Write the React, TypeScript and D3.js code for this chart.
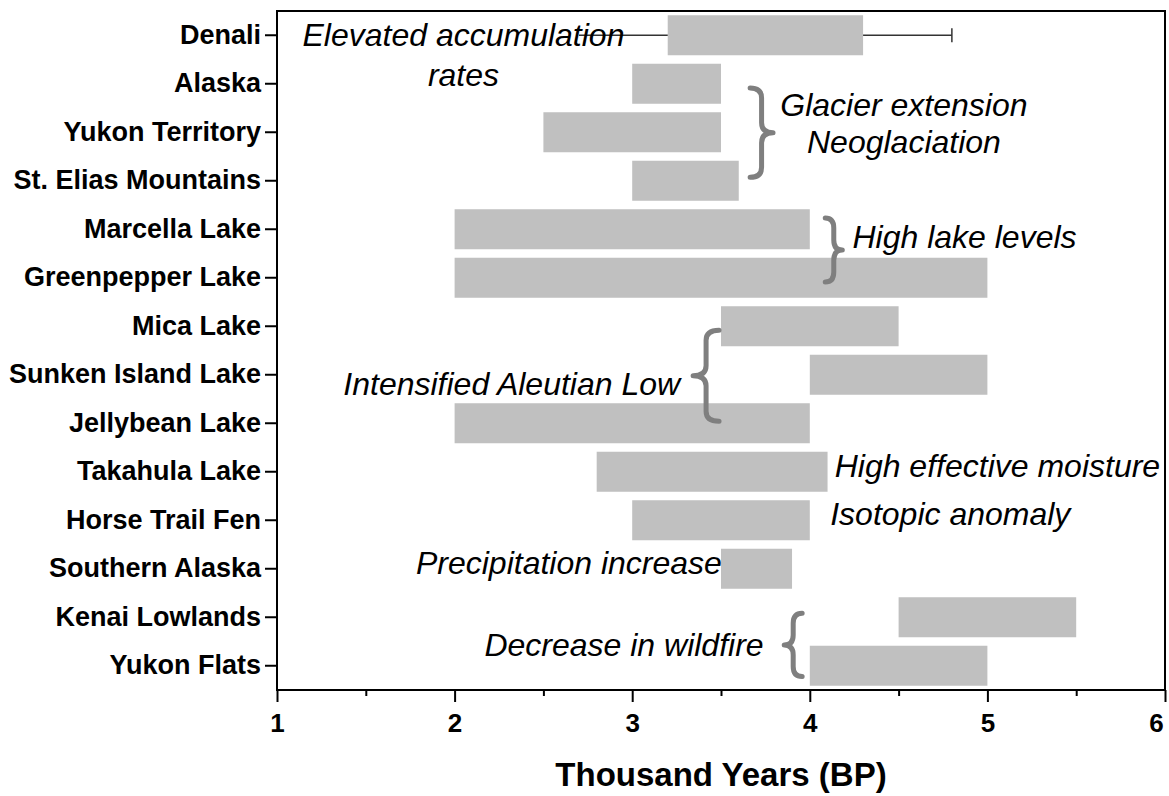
import { axisBottom, axisLeft, scaleBand, scaleLinear, select } from "d3";
import { useEffect, useRef } from "react";

// sites, top to bottom
const sites = [
    "Denali",
    "Alaska",
    "Yukon Territory",
    "St. Elias Mountains",
    "Marcella Lake",
    "Greenpepper Lake",
    "Mica Lake",
    "Sunken Island Lake",
    "Jellybean Lake",
    "Takahula Lake",
    "Horse Trail Fen",
    "Southern Alaska",
    "Kenai Lowlands",
    "Yukon Flats",
];
// interval (thousand years BP)
const startKa = [3.2, 3.0, 2.5, 3.0, 2.0, 2.0, 3.5, 4.0, 2.0, 2.8, 3.0, 3.5, 4.5, 4.0];
const endKa = [4.3, 3.5, 3.5, 3.6, 4.0, 5.0, 4.5, 5.0, 4.0, 4.1, 4.0, 3.9, 5.5, 5.0];
// Denali range whisker
const denaliRange = [2.7, 4.8];

const majorTicks = [1, 2, 3, 4, 5, 6];
const minorTicks = [1.5, 2.5, 3.5, 4.5, 5.5];

// annotations: x in ka, row as fractional site index
const noteText = [
    "Elevated accumulation",
    "rates",
    "Glacier extension",
    "Neoglaciation",
    "High lake levels",
    "Intensified Aleutian Low",
    "High effective moisture",
    "Isotopic anomaly",
    "Precipitation increase",
    "Decrease in wildfire",
];
const noteX = [2.05, 2.05, 4.53, 4.53, 4.24, 3.27, 4.14, 4.115, 3.505, 3.74];
const noteRow = [0, 0.82, 1.44, 2.2, 4.15, 7.18, 8.87, 9.86, 10.87, 12.56];
const noteAnchor = ["middle", "middle", "middle", "middle", "start", "end", "start", "start", "end", "end"];

// curly braces: arm x, tip x, row span
const braceArm = [3.664, 4.087, 3.489, 3.957];
const braceTip = [3.793, 4.183, 3.343, 3.856];
const braceFrom = [1.09, 3.77, 6.08, 11.92];
const braceTo = [2.93, 5.09, 7.96, 13.22];

const W = 1169;
const H = 796;
const left = 277;
const right = 1165;
const top = 11;
const bottom = 690;
const FONT = "'Liberation Sans', Arial, sans-serif";

function bracePath(x0: number, xt: number, y0: number, y1: number) {
    const xm = (x0 + xt) / 2;
    const ym = (y0 + y1) / 2;
    const h = Math.min(10, (y1 - y0) / 5);
    return (
        `M${x0},${y0} Q${xm},${y0} ${xm},${y0 + h} L${xm},${ym - h} ` +
        `Q${xm},${ym} ${xt},${ym} Q${xm},${ym} ${xm},${ym + h} ` +
        `L${xm},${y1 - h} Q${xm},${y1} ${x0},${y1}`
    );
}

function App() {
    const xAxisRef = useRef(null);
    const xMinorRef = useRef(null);
    const yAxisRef = useRef(null);

    const x = scaleLinear().domain([1, 6]).range([left, right]);
    const y = scaleBand().domain(sites).range([top, bottom]).paddingInner(0.175).paddingOuter(0.0875);
    const rowY = (r: number) => (y(sites[0]) as number) + y.bandwidth() / 2 + r * y.step();

    useEffect(() => {
        const gx: any = select(xAxisRef.current);
        gx.call(axisBottom(x).tickValues(majorTicks).tickSize(12).tickPadding(12).tickFormat((d: any) => String(d)));
        gx.select(".domain").remove();
        gx.attr("font-family", FONT).attr("font-size", 26).attr("font-weight", "bold");
        gx.selectAll("line").attr("stroke", "#000").attr("stroke-width", 2);
        gx.selectAll("text").attr("fill", "#000");
        // last label sits inside the page edge
        gx.selectAll("text").filter((d: any) => d === 6).attr("dx", -9);

        const gm: any = select(xMinorRef.current);
        gm.call(axisBottom(x).tickValues(minorTicks).tickSize(6).tickFormat(() => ""));
        gm.select(".domain").remove();
        gm.selectAll("line").attr("stroke", "#000").attr("stroke-width", 2);

        const gy: any = select(yAxisRef.current);
        gy.call(axisLeft(y).tickSize(12).tickPadding(4));
        gy.select(".domain").remove();
        gy.attr("font-family", FONT).attr("font-size", 27).attr("font-weight", "bold");
        gy.selectAll("line").attr("stroke", "#000").attr("stroke-width", 2);
        gy.selectAll("text").attr("fill", "#000");
    }, []);

    const dY = rowY(0);

    return (
        <svg
            width={W}
            height={H}
            style={{ position: "absolute", left: 0, top: 0, background: "#fff" }}
        >
            {/* bars */}
            {sites.map((s, i) => (
                <rect
                    key={s}
                    x={x(startKa[i])}
                    y={y(s)}
                    width={x(endKa[i]) - x(startKa[i])}
                    height={y.bandwidth()}
                    fill="#c0c0c0"
                />
            ))}
            {/* Denali whisker */}
            <line x1={x(denaliRange[0])} x2={x(startKa[0])} y1={dY} y2={dY} stroke="#333" strokeWidth={1.5} />
            <line x1={x(endKa[0])} x2={x(denaliRange[1])} y1={dY} y2={dY} stroke="#333" strokeWidth={1.5} />
            <line x1={x(denaliRange[1])} x2={x(denaliRange[1])} y1={dY - 7} y2={dY + 7} stroke="#333" strokeWidth={1.5} />

            {/* braces */}
            {braceArm.map((a, i) => (
                <path
                    key={i}
                    d={bracePath(x(a), x(braceTip[i]), rowY(braceFrom[i]), rowY(braceTo[i]))}
                    fill="none"
                    stroke="#7f7f7f"
                    strokeWidth={5}
                    strokeLinecap="round"
                    strokeLinejoin="round"
                />
            ))}

            {/* annotations */}
            {noteText.map((t, i) => (
                <text
                    key={t}
                    x={x(noteX[i])}
                    y={rowY(noteRow[i])}
                    dy="0.35em"
                    textAnchor={noteAnchor[i] as any}
                    fontFamily={FONT}
                    fontStyle="italic"
                    fontSize={32}
                    fill="#000"
                >
                    {t}
                </text>
            ))}

            {/* frame */}
            <rect x={left} y={top} width={right - left} height={bottom - top} fill="none" stroke="#000" strokeWidth={2} />

            <g ref={xAxisRef} transform={`translate(0,${bottom})`} />
            <g ref={xMinorRef} transform={`translate(0,${bottom})`} />
            <g ref={yAxisRef} transform={`translate(${left},0)`} />

            <text
                x={(left + right) / 2}
                y={786}
                textAnchor="middle"
                fontFamily={FONT}
                fontWeight="bold"
                fontSize={33}
                fill="#000"
            >
                Thousand Years (BP)
            </text>
        </svg>
    );
}

export default App;
